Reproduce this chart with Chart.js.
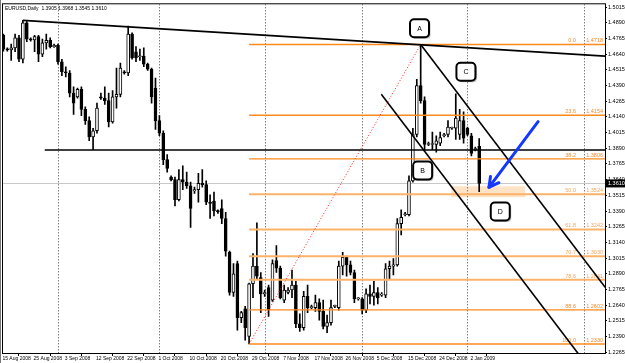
<!DOCTYPE html>
<html><head><meta charset="utf-8">
<script src="https://cdn.jsdelivr.net/npm/chart.js@4.4.1/dist/chart.umd.min.js"></script>
<style>html,body{margin:0;padding:0;background:#fff;overflow:hidden}canvas{display:block}</style>
</head><body>
<canvas id="c" width="625" height="363"></canvas>
<script>
// ---- DATA (EURUSD daily, bar index 0 = 15 Aug 2008) ----
const openP  = [1.4790,1.4680,1.4675,1.4690,1.4770,1.4600,1.4890,1.4760,1.4755,1.4780,1.4640,1.4730,1.4750,1.4700,1.4710,1.4580,1.4500,1.4490,1.4330,1.4300,1.4360,1.4200,1.4110,1.3980,1.4030,1.4300,1.4290,1.4270,1.4100,1.4300,1.4320,1.4500,1.4490,1.4800,1.4660,1.4620,1.4625,1.4560,1.4520,1.4370,1.4110,1.4010,1.3800,1.3660,1.3640,1.3480,1.3640,1.3620,1.3590,1.3550,1.3560,1.3610,1.3600,1.3460,1.3470,1.3390,1.3410,1.3330,1.3060,1.2740,1.2970,1.2540,1.2610,1.2390,1.2810,1.2950,1.2860,1.2730,1.2780,1.2680,1.2995,1.2935,1.2680,1.2740,1.2760,1.2800,1.2490,1.2460,1.2710,1.2620,1.2620,1.2660,1.2590,1.2470,1.2500,1.2630,1.2620,1.2950,1.3020,1.2960,1.2900,1.2690,1.2690,1.2600,1.2730,1.2710,1.2740,1.2720,1.2720,1.2930,1.2950,1.2960,1.3290,1.3360,1.3360,1.3630,1.4000,1.4390,1.4270,1.3920,1.3920,1.3920,1.3930,1.3990,1.4000,1.4050,1.4050,1.4000,1.4110,1.4050,1.3990,1.3880,1.3905];
const highP  = [1.4800,1.4690,1.4720,1.4800,1.4790,1.4910,1.4900,1.4770,1.4790,1.4790,1.4760,1.4800,1.4770,1.4720,1.4720,1.4600,1.4540,1.4510,1.4380,1.4370,1.4380,1.4220,1.4140,1.4050,1.4250,1.4330,1.4380,1.4330,1.4350,1.4530,1.4570,1.4510,1.4865,1.4810,1.4700,1.4680,1.4690,1.4570,1.4530,1.4450,1.4150,1.4030,1.3840,1.3670,1.3660,1.3720,1.3750,1.3700,1.3620,1.3580,1.3690,1.3720,1.3630,1.3520,1.3540,1.3400,1.3480,1.3380,1.3070,1.2970,1.2990,1.2590,1.2630,1.2815,1.3050,1.3295,1.2900,1.2760,1.2800,1.3000,1.3115,1.2950,1.2800,1.2780,1.2920,1.2830,1.2570,1.2750,1.2800,1.2640,1.2720,1.2690,1.2680,1.2560,1.2680,1.2640,1.2990,1.3060,1.3030,1.2990,1.2920,1.2700,1.2700,1.2770,1.2800,1.2830,1.2780,1.2740,1.2970,1.2990,1.3010,1.3330,1.3400,1.3380,1.3670,1.4050,1.4440,1.4718,1.4300,1.3940,1.4020,1.3990,1.4020,1.4010,1.4110,1.4060,1.4325,1.4200,1.4180,1.4060,1.4010,1.3900,1.3968];
const lowP   = [1.4665,1.4665,1.4590,1.4660,1.4580,1.4570,1.4740,1.4745,1.4660,1.4580,1.4620,1.4680,1.4690,1.4695,1.4560,1.4470,1.4460,1.4300,1.4160,1.4290,1.4150,1.4080,1.3950,1.3880,1.4010,1.4280,1.4240,1.4060,1.4090,1.4210,1.4300,1.4480,1.4470,1.4600,1.4580,1.4590,1.4540,1.4510,1.4250,1.4040,1.3990,1.3760,1.3700,1.3630,1.3430,1.3470,1.3560,1.3570,1.3260,1.3530,1.3460,1.3580,1.3440,1.3330,1.3350,1.3370,1.3290,1.3030,1.2720,1.2710,1.2440,1.2500,1.2360,1.2330,1.2700,1.2850,1.2580,1.2710,1.2550,1.2670,1.2900,1.2690,1.2660,1.2730,1.2700,1.2460,1.2430,1.2440,1.2580,1.2610,1.2590,1.2520,1.2450,1.2420,1.2480,1.2620,1.2600,1.2880,1.2870,1.2880,1.2660,1.2680,1.2570,1.2580,1.2650,1.2640,1.2650,1.2710,1.2700,1.2850,1.2880,1.2950,1.3200,1.3350,1.3350,1.3620,1.3980,1.4250,1.3870,1.3910,1.3880,1.3860,1.3910,1.3980,1.3980,1.4040,1.3960,1.3960,1.3930,1.3990,1.3830,1.3870,1.3545];
const closeP = [1.4680,1.4675,1.4690,1.4770,1.4600,1.4890,1.4760,1.4755,1.4780,1.4640,1.4730,1.4750,1.4700,1.4710,1.4580,1.4500,1.4490,1.4330,1.4250,1.4360,1.4200,1.4110,1.3980,1.4030,1.4210,1.4290,1.4270,1.4100,1.4300,1.4320,1.4530,1.4490,1.4800,1.4610,1.4610,1.4625,1.4560,1.4520,1.4300,1.4110,1.4010,1.3800,1.3730,1.3640,1.3480,1.3640,1.3620,1.3590,1.3410,1.3560,1.3610,1.3600,1.3460,1.3450,1.3390,1.3385,1.3330,1.3070,1.2740,1.2890,1.2540,1.2580,1.2460,1.2810,1.2950,1.2870,1.2730,1.2740,1.2600,1.2970,1.2935,1.2700,1.2760,1.2760,1.2800,1.2490,1.2460,1.2710,1.2620,1.2625,1.2660,1.2590,1.2470,1.2500,1.2620,1.2630,1.2950,1.3020,1.2960,1.2900,1.2690,1.2690,1.2600,1.2730,1.2710,1.2740,1.2700,1.2720,1.2930,1.2950,1.2960,1.3290,1.3340,1.3360,1.3630,1.4000,1.4390,1.4270,1.3920,1.3920,1.3925,1.3950,1.3975,1.4000,1.4060,1.4050,1.4130,1.4110,1.3970,1.4000,1.3850,1.3880,1.3610];
const dateLabels = ["15 Aug 2008","25 Aug 2008","3 Sep 2008","12 Sep 2008","22 Sep 2008","1 Oct 2008","10 Oct 2008","20 Oct 2008","29 Oct 2008","7 Nov 2008","17 Nov 2008","26 Nov 2008","5 Dec 2008","15 Dec 2008","24 Dec 2008","2 Jan 2009"];
const dateLabelIdx = [0,8,16,24,32,40,48,56,64,72,80,88,96,104,112,120];
const priceTicks = ["1.2265","1.2390","1.2515","1.2640","1.2765","1.2890","1.3015","1.3140","1.3265","1.3390","1.3515","1.3640","1.3765","1.3890","1.4015","1.4140","1.4265","1.4390","1.4515","1.4640","1.4765","1.4890","1.5015"];
const titleText = "EURUSD,Daily  1.3905 1.3968 1.3545 1.3610";
const lastPrice = 1.3610;
const fibLevels = ["0.0","23.6","38.2","50.0","61.8","70.7","78.6","88.6","100.0"];
const fibPrices = [1.4718,1.4154,1.3806,1.3524,1.3242,1.3030,1.2841,1.2602,1.2330];
const fibStartIdx = 63;
const monthSepIdx = [14,40,67,92,119,149];
// drawn objects, in (bar index, price)
const trendTop   = [[5,1.4910],[154.3,1.4625]];
const channelA   = [[107,1.4718],[154.3,1.2782]];
const channelB   = [[96.9,1.4321],[148,1.2228]];
const hLine      = [[10.6,1.3876],[154.3,1.3876]];
const fibDiag    = [[63,1.2330],[107,1.4718]];
const zoneBox    = [[114.85,1.3587],[133.8,1.3500]];
const arrowPts   = [[137.1,1.4103],[124.5,1.3579]];
const markNames  = ["A","B","C","D"];
const markPts    = [[106.7,1.4847],[107.5,1.3712],[118.6,1.4500],[127.4,1.3386]];

// ---- build datasets ----
const bodyData = openP.map((o,i)=>({x:i, y:[Math.min(o,closeP[i]), Math.max(o,closeP[i])]}));
const wickData = lowP.map((l,i)=>({x:i, y:[l, highP[i]]}));
const bodyColors = openP.map((o,i)=> closeP[i] >= o ? '#ffffff' : '#000000');

const FONT = 'Liberation Sans, Arial, sans-serif';

const annot = {
  id:'annot',
  beforeDatasetsDraw(chart){
    const {ctx, chartArea:a, scales:{x,y}} = chart;
    ctx.save();
    ctx.beginPath(); ctx.rect(a.left,a.top,a.right-a.left,a.bottom-a.top); ctx.clip();
    const x1=x.getPixelForValue(zoneBox[0][0]), x2=x.getPixelForValue(zoneBox[1][0]);
    const y1=y.getPixelForValue(zoneBox[0][1]), y2=y.getPixelForValue(zoneBox[1][1]);
    ctx.fillStyle='#fde3c6'; ctx.fillRect(x1,y1,x2-x1,y2-y1);
    ctx.strokeStyle='#c8c8c8'; ctx.lineWidth=1;
    const yb=Math.round(y.getPixelForValue(lastPrice))+0.5;
    ctx.beginPath(); ctx.moveTo(a.left,yb); ctx.lineTo(a.right,yb); ctx.stroke();
    ctx.strokeStyle='#444'; ctx.setLineDash([1,2]);
    monthSepIdx.forEach(i=>{ const xp=Math.round(x.getPixelForValue(i))+0.5;
      ctx.beginPath(); ctx.moveTo(xp,a.top); ctx.lineTo(xp,a.bottom); ctx.stroke(); });
    ctx.restore();
  },
  afterDatasetsDraw(chart){
    const {ctx, chartArea:a, scales:{x,y}} = chart;
    const P = p=>[x.getPixelForValue(p[0]), y.getPixelForValue(p[1])];
    ctx.save();
    ctx.beginPath(); ctx.rect(a.left,a.top,a.right-a.left,a.bottom-a.top); ctx.clip();
    const xs = x.getPixelForValue(fibStartIdx);
    fibPrices.forEach((p,k)=>{
      const yp=y.getPixelForValue(p);
      const strong = (k<=2 || k>=7);
      ctx.strokeStyle = strong ? '#ff8a1c' : '#fbb36a';
      ctx.lineWidth = strong ? 1.4 : 2;
      ctx.beginPath(); ctx.moveTo(xs,yp); ctx.lineTo(a.right,yp); ctx.stroke();
      ctx.fillStyle = strong ? '#f08a30' : '#f0a860';
      ctx.font = '5.5px '+FONT; ctx.textBaseline='bottom';
      ctx.textAlign='right'; ctx.fillText(fibLevels[k], 576, yp-1);
      ctx.fillText(p.toFixed(4), 603, yp-1);
    });
    ctx.strokeStyle='#ff2020'; ctx.lineWidth=1; ctx.setLineDash([1,2]);
    let p1=P(fibDiag[0]), p2=P(fibDiag[1]);
    ctx.beginPath(); ctx.moveTo(...p1); ctx.lineTo(...p2); ctx.stroke();
    ctx.setLineDash([]);
    ctx.strokeStyle='#000'; ctx.lineWidth=1.6;
    [trendTop, channelA, channelB, hLine].forEach(l=>{
      const q1=P(l[0]), q2=P(l[1]);
      ctx.beginPath(); ctx.moveTo(...q1); ctx.lineTo(...q2); ctx.stroke();
    });
    const s=P(arrowPts[0]), e=P(arrowPts[1]);
    ctx.strokeStyle='#1538ff'; ctx.lineWidth=3; ctx.lineCap='round'; ctx.lineJoin='round';
    ctx.beginPath(); ctx.moveTo(...s); ctx.lineTo(...e); ctx.stroke();
    const ang=Math.atan2(e[1]-s[1], e[0]-s[0]);
    ctx.beginPath();
    ctx.moveTo(e[0]-11*Math.cos(ang-0.5), e[1]-11*Math.sin(ang-0.5));
    ctx.lineTo(e[0],e[1]);
    ctx.lineTo(e[0]-11*Math.cos(ang+0.5), e[1]-11*Math.sin(ang+0.5));
    ctx.stroke();
    markPts.forEach((m,k)=>{
      const [cx,cy]=P(m); const w=19,h=18,r=4;
      ctx.fillStyle='#bdbdbd';
      ctx.beginPath(); ctx.roundRect(cx-w/2+1.5,cy-h/2+1.5,w,h,r); ctx.fill();
      ctx.fillStyle='#fff'; ctx.strokeStyle='#000'; ctx.lineWidth=2;
      ctx.beginPath(); ctx.roundRect(cx-w/2,cy-h/2,w,h,r); ctx.fill(); ctx.stroke();
      ctx.fillStyle='#000'; ctx.font='7px '+FONT; ctx.textAlign='center'; ctx.textBaseline='middle';
      ctx.fillText(markNames[k], cx, cy+0.5);
    });
    ctx.restore();
  },
  afterDraw(chart){
    const {ctx, chartArea:a, scales:{y}} = chart;
    ctx.save();
    ctx.strokeStyle='#000'; ctx.lineWidth=1;
    ctx.strokeRect(a.left-0.5, a.top-0.5, a.right-a.left+1, a.bottom-a.top+1);
    ctx.strokeStyle='#777'; ctx.beginPath(); ctx.moveTo(0.5,0); ctx.lineTo(0.5,363); ctx.stroke();
    ctx.fillStyle='#000'; ctx.font='5px '+FONT; ctx.textAlign='left'; ctx.textBaseline='middle';
    ctx.fillText(titleText, a.left+2, a.top+4);
    const yp=y.getPixelForValue(lastPrice);
    ctx.fillStyle='#000'; ctx.fillRect(a.right+1, yp-4, 625-a.right-1, 8);
    ctx.fillStyle='#fff'; ctx.font='5.5px '+FONT; ctx.textAlign='left';
    ctx.fillText(lastPrice.toFixed(4), a.right+3, yp);
    ctx.restore();
  }
};

new Chart(document.getElementById('c'), {
  type:'bar',
  data:{datasets:[
    {data:bodyData, backgroundColor:bodyColors, borderColor:'#000', borderWidth:1, borderSkipped:false,
     barThickness:3, grouped:false, minBarLength:1},
    {data:wickData, backgroundColor:'#000', borderWidth:0, barThickness:1, grouped:false}
  ]},
  options:{
    responsive:false, animation:false, devicePixelRatio:1,
    layout:{padding:{left:3, top:3, right:0, bottom:0}},
    plugins:{legend:{display:false}, tooltip:{enabled:false}, title:{display:false}},
    scales:{
      x:{type:'linear', min:-0.1, max:154.26, offset:false,
        afterBuildTicks:s=>{ s.ticks = dateLabelIdx.map(v=>({value:v})); },
        afterFit:s=>{ s.height=10; },
        grid:{drawOnChartArea:false, drawTicks:true, tickLength:3, color:'#000'},
        border:{display:true, color:'#000'},
        ticks:{autoSkip:false, maxRotation:0, align:'start', padding:0, labelOffset:-1,
          color:'#000', font:{family:FONT, size:5},
          callback:(v)=>{ const k=dateLabelIdx.indexOf(v); return k>=0?dateLabels[k]:''; }}
      },
      y:{position:'right', min:1.2258, max:1.5038,
        afterBuildTicks:s=>{ s.ticks = priceTicks.map(t=>({value:parseFloat(t)})); },
        afterFit:s=>{ s.width=20; },
        grid:{drawOnChartArea:false, drawTicks:true, tickLength:2, color:'#000'},
        border:{display:true, color:'#000'},
        ticks:{autoSkip:false, padding:1, color:'#000', font:{family:FONT, size:5.5},
          callback:(v)=>{ const t=priceTicks.find(t=>Math.abs(parseFloat(t)-v)<1e-6); return t||''; }}
      }
    }
  },
  plugins:[annot]
});
</script>
</body></html>
